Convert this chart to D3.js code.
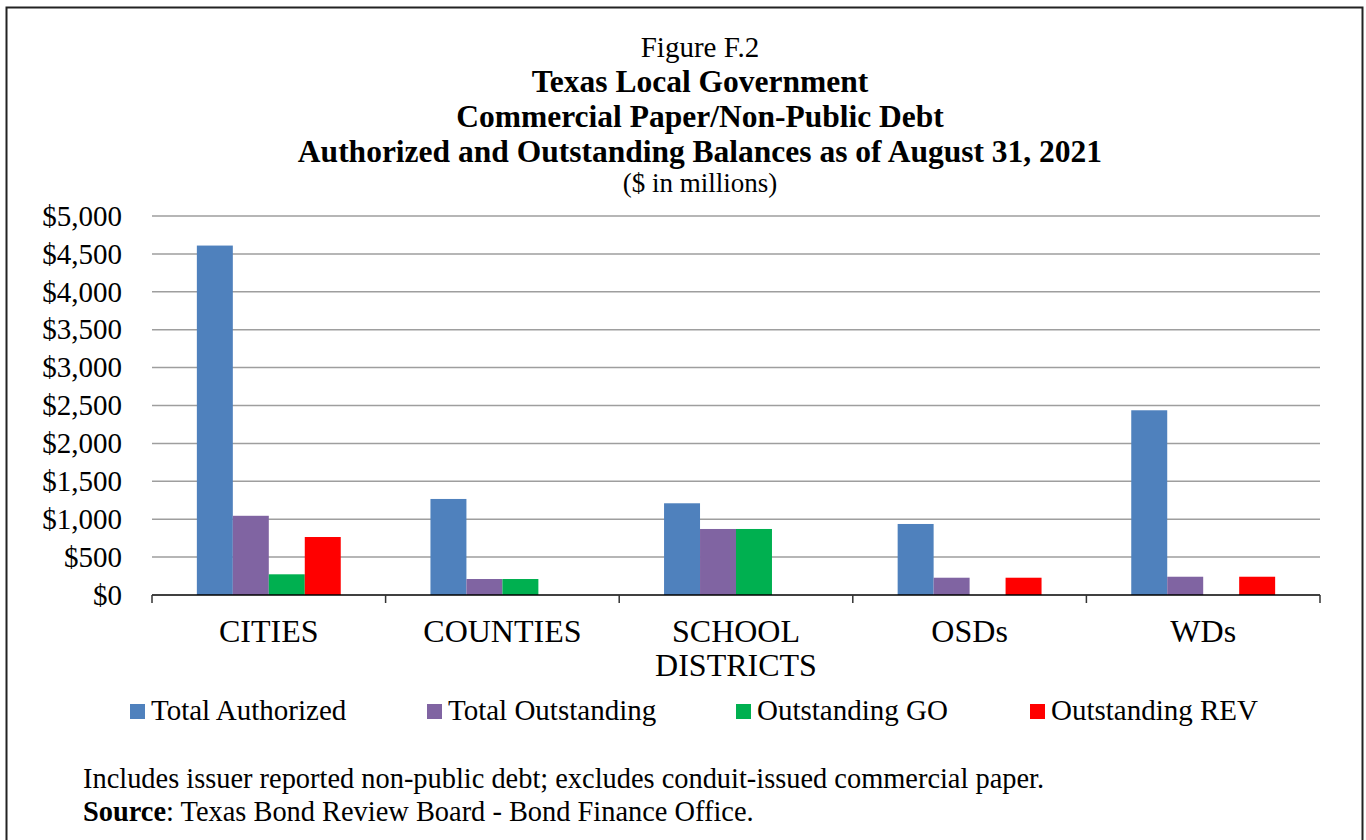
<!DOCTYPE html>
<html>
<head>
<meta charset="utf-8">
<script src="https://cdn.jsdelivr.net/npm/d3@7"></script>
<style>
  html, body { margin: 0; padding: 0; background: #fff; }
  svg { display: block; font-family: "Liberation Serif", "DejaVu Serif", serif; }
</style>
</head>
<body>
<svg id="chart" width="1366" height="840"></svg>
<script>
// データ（$ in millions）
const categories = ['CITIES', 'COUNTIES', 'SCHOOL DISTRICTS', 'OSDs', 'WDs'];
const seriesNames = ['Total Authorized', 'Total Outstanding', 'Outstanding GO', 'Outstanding REV'];
const totalAuthorized = [4610, 1267, 1210, 937, 2437];
const totalOutstanding = [1045, 211, 871, 228, 241];
const outstandingGO = [273, 211, 871, 0, 0];
const outstandingREV = [765, 0, 0, 228, 241];
const seriesColors = ['#4F81BD', '#8064A2', '#00B050', '#FF0000'];
const yTicks = [0, 500, 1000, 1500, 2000, 2500, 3000, 3500, 4000, 4500, 5000];

const titleLines = [
    { text: 'Figure F.2', bold: false, y: 57, size: 29 },
    { text: 'Texas Local Government', bold: true, y: 92, size: 31.5 },
    { text: 'Commercial Paper/Non-Public Debt', bold: true, y: 127, size: 31.5 },
    { text: 'Authorized and Outstanding Balances as of August 31, 2021', bold: true, y: 162, size: 31.5 },
    { text: '($ in millions)', bold: false, y: 192, size: 27 }
];

const seriesValues = [totalAuthorized, totalOutstanding, outstandingGO, outstandingREV];

const svg = d3.select('#chart');

// 外枠
svg.append('rect')
    .attr('x', 6.5).attr('y', 7.5)
    .attr('width', 1356).attr('height', 850)
    .attr('fill', 'none')
    .attr('stroke', '#222')
    .attr('stroke-width', 2);

// タイトル
svg.selectAll('.title-line')
    .data(titleLines)
    .enter().append('text')
    .attr('class', 'title-line')
    .attr('x', 700)
    .attr('y', d => d.y)
    .attr('text-anchor', 'middle')
    .style('font-size', d => d.size + 'px')
    .style('font-weight', d => d.bold ? 'bold' : 'normal')
    .attr('fill', '#000')
    .text(d => d.text);

// プロット領域
const plot = { left: 152, right: 1320, top: 216, bottom: 595 };

const x0 = d3.scaleBand()
    .domain(categories)
    .range([plot.left, plot.right])
    .paddingInner(0)
    .paddingOuter(0);

const groupOffset = x0.bandwidth() * 0.192;
const x1 = d3.scaleBand()
    .domain(seriesNames)
    .range([groupOffset, x0.bandwidth() - groupOffset])
    .padding(0);

const y = d3.scaleLinear()
    .domain([0, 5000])
    .range([plot.bottom, plot.top]);

// グリッド線
svg.append('g')
    .attr('class', 'grid')
    .selectAll('line')
    .data(yTicks.filter(d => d > 0))
    .enter().append('line')
    .attr('x1', plot.left).attr('x2', plot.right)
    .attr('y1', d => y(d)).attr('y2', d => y(d))
    .attr('stroke', '#9e9e9e')
    .attr('stroke-width', 1.5);

// Y軸ラベル
const yAxis = d3.axisLeft(y)
    .tickValues(yTicks)
    .tickSize(0)
    .tickPadding(30)
    .tickFormat(d => '$' + d3.format(',')(d));

const yAxisG = svg.append('g')
    .attr('transform', `translate(${plot.left}, 0)`)
    .call(yAxis);
yAxisG.select('.domain').remove();
yAxisG.selectAll('text')
    .style('font-family', '"Liberation Serif", serif')
    .style('font-size', '29px')
    .attr('fill', '#000');

// 棒グラフ
const rows = categories.map((c, i) => ({
    category: c,
    values: seriesNames.map((s, j) => ({ series: s, value: seriesValues[j][i], color: seriesColors[j] }))
}));

const groups = svg.selectAll('.cat-group')
    .data(rows)
    .enter().append('g')
    .attr('class', 'cat-group')
    .attr('transform', d => `translate(${x0(d.category)}, 0)`);

groups.selectAll('rect')
    .data(d => d.values.filter(v => v.value > 0))
    .enter().append('rect')
    .attr('x', d => x1(d.series))
    .attr('y', d => y(d.value))
    .attr('width', x1.bandwidth())
    .attr('height', d => y(0) - y(d.value))
    .attr('fill', d => d.color);

// X軸
const xAxisG = svg.append('g').attr('class', 'x-axis');
xAxisG.append('line')
    .attr('x1', plot.left).attr('x2', plot.right)
    .attr('y1', plot.bottom).attr('y2', plot.bottom)
    .attr('stroke', '#000')
    .attr('stroke-width', 1.5);

const boundaries = categories.map(c => x0(c)).concat([plot.right]);
xAxisG.selectAll('.tick-mark')
    .data(boundaries)
    .enter().append('line')
    .attr('class', 'tick-mark')
    .attr('x1', d => d).attr('x2', d => d)
    .attr('y1', plot.bottom).attr('y2', plot.bottom + 8)
    .attr('stroke', '#333')
    .attr('stroke-width', 1.5);

// カテゴリラベル（改行対応）
const catLabels = xAxisG.selectAll('.cat-label')
    .data(categories)
    .enter().append('text')
    .attr('class', 'cat-label')
    .attr('x', d => x0(d) + x0.bandwidth() / 2)
    .attr('y', 642)
    .attr('text-anchor', 'middle')
    .style('font-size', '32px')
    .attr('fill', '#000');

catLabels.each(function(d) {
    const words = d === 'SCHOOL DISTRICTS' ? ['SCHOOL', 'DISTRICTS'] : [d];
    const t = d3.select(this);
    words.forEach((w, i) => {
        t.append('tspan')
            .attr('x', x0(d) + x0.bandwidth() / 2)
            .attr('dy', i === 0 ? 0 : 34)
            .text(w);
    });
});

// 凡例
const legendX = [130, 427, 736, 1030];
const legend = svg.selectAll('.legend-item')
    .data(seriesNames)
    .enter().append('g')
    .attr('class', 'legend-item')
    .attr('transform', (d, i) => `translate(${legendX[i]}, 704)`);

legend.append('rect')
    .attr('width', 15).attr('height', 15)
    .attr('fill', (d, i) => seriesColors[i]);

legend.append('text')
    .attr('x', 21)
    .attr('y', 16)
    .style('font-size', '29px')
    .attr('fill', '#000')
    .text(d => d);

// 注記・出典
svg.append('text')
    .attr('x', 83).attr('y', 788)
    .style('font-size', '28.4px')
    .attr('fill', '#000')
    .text('Includes issuer reported non-public debt; excludes conduit-issued commercial paper.');

const source = svg.append('text')
    .attr('x', 83).attr('y', 821)
    .style('font-size', '28.4px')
    .attr('fill', '#000');
source.append('tspan').style('font-weight', 'bold').text('Source');
source.append('tspan').text(': Texas Bond Review Board - Bond Finance Office.');
</script>
</body>
</html>
